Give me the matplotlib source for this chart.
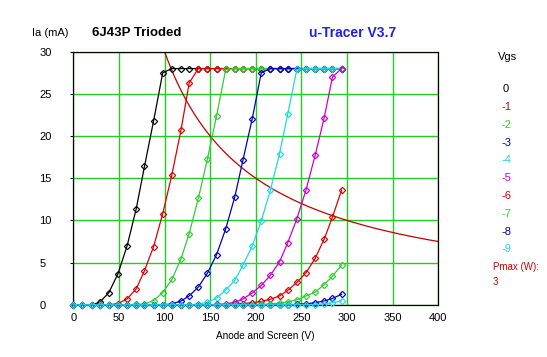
import matplotlib
matplotlib.use("Agg")
import matplotlib.pyplot as plt
import numpy as np

plt.rcParams["font.family"] = ["Liberation Sans", "DejaVu Sans"]

# anode sweep (V), shared by every grid-voltage trace
VA = [0, 10, 20, 29, 39, 49, 59, 69, 78, 88, 98, 108, 118, 127, 137, 147,
      157, 167, 177, 186, 196, 206, 216, 226, 235, 245, 255, 265, 275, 284, 294]

# anode current (mA) per grid voltage
IA_0 = [0, 0, 0, 0.3, 1.45, 3.7, 7.0, 11.4, 16.4, 21.8, 27.5, 28, 28, 28, 28, 28,
        28, 28, 28, 28, 28, 28, 28, 28, 28, 28, 28, 28, 28, 28, 28]
IA_1 = [0, 0, 0, 0, 0, 0.15, 0.7, 1.9, 4.05, 6.9, 10.8, 15.4, 20.7, 26.3, 28, 28,
        28, 28, 28, 28, 28, 28, 28, 28, 28, 28, 28, 28, 28, 28, 28]
IA_2 = [0, 0, 0, 0, 0, 0, 0, 0.05, 0.1, 0.5, 1.45, 3.0, 5.45, 8.45, 12.6, 17.3,
        22.4, 27.9, 28, 28, 28, 28, 28, 28, 28, 28, 28, 28, 28, 28, 28]
IA_3 = [0, 0, 0, 0, 0, 0, 0, 0, 0, 0, 0, 0.1, 0.45, 1.05, 2.1, 3.75,
        5.95, 9.0, 12.8, 17.2, 22.0, 27.5, 28, 28, 28, 28, 28, 28, 28, 28, 28]
IA_4 = [0, 0, 0, 0, 0, 0, 0, 0, 0, 0, 0, 0, 0, 0, 0.1, 0.3,
        0.8, 1.75, 2.9, 4.7, 6.95, 9.95, 13.6, 17.9, 22.6, 27.9, 28, 28, 28, 28, 28]
IA_5 = [0, 0, 0, 0, 0, 0, 0, 0, 0, 0, 0, 0, 0, 0, 0, 0,
        0.05, 0.1, 0.3, 0.7, 1.4, 2.3, 3.5, 5.1, 7.35, 10.2, 13.6, 17.7, 22.2, 27.0, 28]
IA_6 = [0, 0, 0, 0, 0, 0, 0, 0, 0, 0, 0, 0, 0, 0, 0, 0,
        0, 0.03, 0.08, 0.15, 0.25, 0.4, 0.65, 1.05, 1.7, 2.65, 3.8, 5.5, 7.8, 10.4, 13.6]
IA_7 = [0, 0, 0, 0, 0, 0, 0, 0, 0, 0, 0, 0, 0, 0, 0, 0,
        0, 0, 0, 0, 0, 0.05, 0.1, 0.2, 0.35, 0.6, 1.05, 1.5, 2.4, 3.4, 4.7]
IA_8 = [0, 0, 0, 0, 0, 0, 0, 0, 0, 0, 0, 0, 0, 0, 0, 0,
        0, 0, 0, 0, 0, 0, 0, 0, 0, 0.05, 0.12, 0.25, 0.45, 0.75, 1.25]
IA_9 = [0, 0, 0, 0, 0, 0, 0, 0, 0, 0, 0, 0, 0, 0, 0, 0,
        0, 0, 0, 0, 0, 0, 0, 0, 0, 0, 0, 0, 0.12, 0.25, 0.45]

VGS = ["0", "-1", "-2", "-3", "-4", "-5", "-6", "-7", "-8", "-9"]
CURVES = [IA_0, IA_1, IA_2, IA_3, IA_4, IA_5, IA_6, IA_7, IA_8, IA_9]
PMAX_W = 3

LINE_COLS = ["#000000", "#e00000", "#33cc33", "#0000c0", "#22d8e0",
             "#cc00cc", "#e00000", "#33cc33", "#0000c0", "#22d8e0"]
TEXT_COLS = ["#000000", "#cc0000", "#33cc33", "#000090", "#33cccc",
             "#cc00cc", "#cc0000", "#33cc33", "#000090", "#33cccc"]
GRID = "#22cc22"

W, H = 547, 357
fig = plt.figure(figsize=(W / 100, H / 100), dpi=100)
L, R, T, B = 73.3, 438.3, 51.7, 304.8
ax = fig.add_axes([L / W, 1 - B / H, (R - L) / W, (B - T) / H])

ax.set_xlim(0, 400); ax.set_ylim(0, 30)
ax.set_xticks(range(0, 401, 50)); ax.set_yticks(range(0, 31, 5))
ax.grid(True, color=GRID, lw=1.0)
ax.set_axisbelow(True)
for s in ax.spines.values():
    s.set_color("black"); s.set_linewidth(0.9)
ax.tick_params(axis="x", length=0, pad=6, labelsize=8)
ax.tick_params(axis="y", length=2.5, width=0.8, pad=22, labelsize=8)
for lab in ax.get_yticklabels():
    lab.set_horizontalalignment("left")

# Pmax hyperbola, I = P / V
pv = np.linspace(100, 400, 300)
ax.plot(pv, PMAX_W * 1000 / pv, color="#c00000", lw=0.9, zorder=2)

for ia, c in zip(CURVES, LINE_COLS):
    ax.plot(VA, ia, color=c, lw=0.9, marker="D", ms=3.2, mfc="none",
            mec=c, mew=0.85, clip_on=False, zorder=3)

# headings
fig.text(32 / W, 1 - 33 / H, "Ia (mA)", fontsize=8, va="center")
fig.text(92 / W, 1 - 33 / H, "6J43P Trioded", fontsize=9.5, weight="bold", va="center")
fig.text(309 / W, 1 - 33 / H, "u-Tracer V3.7", fontsize=10, weight="bold",
         color="#2020e8", va="center")
fig.text(265 / W, 1 - 336 / H, "Anode and Screen (V)", fontsize=7.2,
         ha="center", va="center")

# legend column
fig.text(508 / W, 1 - 57 / H, "Vgs", fontsize=8, ha="center", va="center")
for i, (v, c) in enumerate(zip(VGS, TEXT_COLS)):
    fig.text(506 / W, 1 - (89.3 + 17.8 * i) / H, v, fontsize=8, color=c,
             ha="center", va="center")
fig.text(493 / W, 1 - 267 / H, "Pmax (W):", fontsize=7, color="#cc0000", va="center")
fig.text(493 / W, 1 - 282 / H, str(PMAX_W), fontsize=7, color="#cc0000", va="center")

fig.savefig("out.png", dpi=100, facecolor="white")
